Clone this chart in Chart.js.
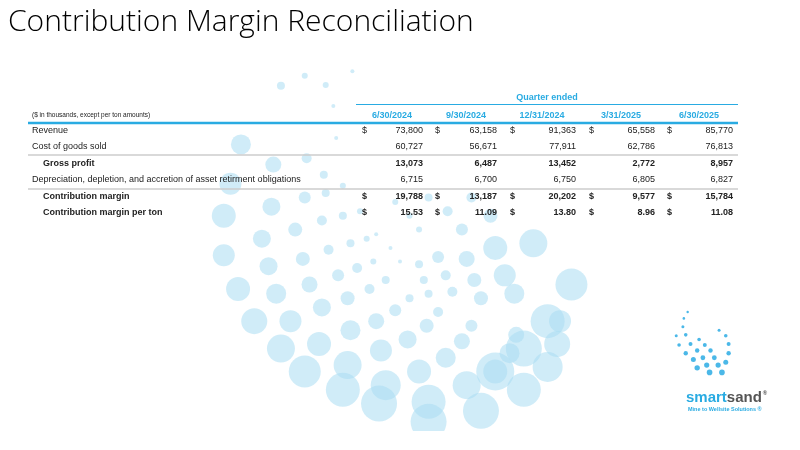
<!DOCTYPE html>
<html><head><meta charset="utf-8">
<script src="https://cdn.jsdelivr.net/npm/chart.js@4"></script>
<style>html,body{margin:0;padding:0;background:#fff}#w{width:800px;height:450px;position:relative}</style>
</head><body><div id="w"><canvas id="c" width="800" height="450"></canvas></div>
<script>
const quarters = ["6/30/2024","9/30/2024","12/31/2024","3/31/2025","6/30/2025"];
const rowLabels = ["Revenue","Cost of goods sold","Gross profit","Depreciation, depletion, and accretion of asset retirment obligations","Contribution margin","Contribution margin per ton"];
const revenue = ["73,800","63,158","91,363","65,558","85,770"];
const cogs = ["60,727","56,671","77,911","62,786","76,813"];
const grossProfit = ["13,073","6,487","13,452","2,772","8,957"];
const dda = ["6,715","6,700","6,750","6,805","6,827"];
const contribMargin = ["19,788","13,187","20,202","9,577","15,784"];
const marginPerTon = ["15.53","11.09","13.80","8.96","11.08"];
// decorative spiral dots [x, y, r]
const dots = [
[275,73,4],[300,62,3],[322,72,3],[350,57,2],[330,95,2],
[233,137,10],[267,159,8],[302,152,5],[320,170,4],[333,130,2],
[222,180,11],[265,205,9],[300,195,6],[322,190,4],[340,182,3],
[215,215,12],[255,240,9],[290,230,7],[318,220,5],[340,215,4],[358,210,3],
[215,258,11],[262,270,9],[298,262,7],[325,252,5],[348,245,4],[365,240,3],
[230,295,12],[270,300,10],[305,290,8],[335,280,6],[355,272,5],[372,265,3],
[247,330,13],[285,330,11],[318,315,9],[345,305,7],[368,295,5],[385,285,4],
[275,360,14],[315,355,12],[348,340,10],[375,330,8],[395,318,6],[410,305,4],
[300,385,16],[345,378,14],[380,362,11],[408,350,9],[428,335,7],[440,320,5],
[340,405,17],[385,400,15],[420,385,12],[448,370,10],[465,352,8],[475,335,6],
[378,420,18],[430,418,17],[470,400,14],[500,385,12],[515,365,10],[522,345,8],
[430,440,18],[485,428,18],[530,405,17],[555,380,15],[565,355,13],[568,330,11],
[540,245,14],[580,290,16],[555,330,17],[530,360,18],[500,385,19],
[500,250,12],[510,280,11],[520,300,10],[470,262,8],[478,285,7],[485,305,7],
[440,260,6],[448,280,5],[455,298,5],[420,268,4],[425,285,4],[430,300,4],
[395,200,3],[410,215,3],[420,230,3],[375,235,2],[390,250,2],[400,265,2],
[430,195,4],[450,210,5],[465,230,6],[475,195,5],[495,215,7]
];
const tablePlugin = {
  id:'table',
  afterDraw(chart){
    const c = chart.ctx; c.save();
    c.fillStyle='#000'; c.font='300 30px "Open Sans"'; c.textBaseline='middle'; c.textAlign='left';
    c.fillText('Contribution Margin Reconciliation',8,22);
    const blue='#29abe2';
    c.font='bold 9px "Liberation Sans"'; c.fillStyle=blue; c.textAlign='center';
    c.fillText('Quarter ended',547,98);
    c.strokeStyle=blue; c.lineWidth=1; c.beginPath(); c.moveTo(356,104.5); c.lineTo(738,104.5); c.stroke();
    const centers=[392,466,542,621,699];
    quarters.forEach((q,i)=>c.fillText(q,centers[i],116));
    c.lineWidth=2.5; c.beginPath(); c.moveTo(28,123); c.lineTo(738,123); c.stroke();
    c.strokeStyle='#cccccc'; c.lineWidth=1.5;
    [155,189].forEach(y=>{c.beginPath(); c.moveTo(28,y); c.lineTo(738,y); c.stroke();});
    c.fillStyle='#222'; c.textAlign='left'; c.font='6.5px "Liberation Sans"';
    c.fillText('($ in thousands, except per ton amounts)',32,115);
    const rows=[revenue,cogs,grossProfit,dda,contribMargin,marginPerTon];
    const ys=[131,147,164,180,197,213];
    const bold=[false,false,true,false,true,true];
    const indent=[0,0,1,0,1,1];
    const dollar=[true,false,false,false,true,true];
    const dx=[362,435,510,589,667], rx=[423,497,576,655,733];
    rows.forEach((r,j)=>{
      c.font=(bold[j]?'bold ':'')+'9px "Liberation Sans"';
      c.textAlign='left'; c.fillText(rowLabels[j],indent[j]?43:32,ys[j]);
      r.forEach((v,i)=>{
        if(dollar[j]){c.textAlign='left'; c.fillText('$',dx[i],ys[j]);}
        c.textAlign='right'; c.fillText(v,rx[i],ys[j]);
      });
    });
    c.textAlign='left'; c.font='bold 15px "Liberation Sans"';
    c.fillStyle=blue; c.fillText('smart',686,398);
    const w=c.measureText('smart').width;
    c.fillStyle='#555'; c.fillText('sand',686+w,398);
    const w2=c.measureText('sand').width;
    c.font='bold 6px "Liberation Sans"'; c.fillText('®',686+w+w2+1,393);
    c.fillStyle=blue; c.font='bold 5.5px "Liberation Sans"'; c.fillText('Mine to Wellsite Solutions ®',688,409);
    c.restore();
  }
};
// small logo spiral dots
const logoDots=[[705,355,2],[712,362,2.2],[718,370,2.4],[722,378,2.6],[725,386,2.8],[700,345,1.8],[697,336,1.5],[698,327,1.3],[702,320,1.2],
[714,350,1.8],[720,356,2],[726,362,2.2],[730,370,2.4],[734,378,2.6],[738,386,2.8],[742,375,2.5],[745,365,2.2],[745,355,2],[742,346,1.8],[735,340,1.5],
[708,372,2.5],[712,381,2.7],[700,365,2.2],[693,356,1.8],[690,346,1.5]];
new Chart(document.getElementById('c'),{
  type:'bubble',
  data:{datasets:[
    {data:dots.map(d=>({x:d[0],y:d[1],r:d[2]})),backgroundColor:'rgba(170,220,243,0.55)',borderWidth:0},
    {data:logoDots.map(d=>({x:d[0],y:d[1],r:d[2]})),backgroundColor:'#4bb8e8',borderWidth:0}
  ]},
  options:{responsive:false,animation:false,layout:{padding:0},
    plugins:{legend:{display:false},tooltip:{enabled:false}},
    scales:{x:{type:'linear',min:0,max:800,display:false},y:{type:'linear',min:0,max:450,reverse:true,display:false}}},
  plugins:[tablePlugin]
});
</script></body></html>
